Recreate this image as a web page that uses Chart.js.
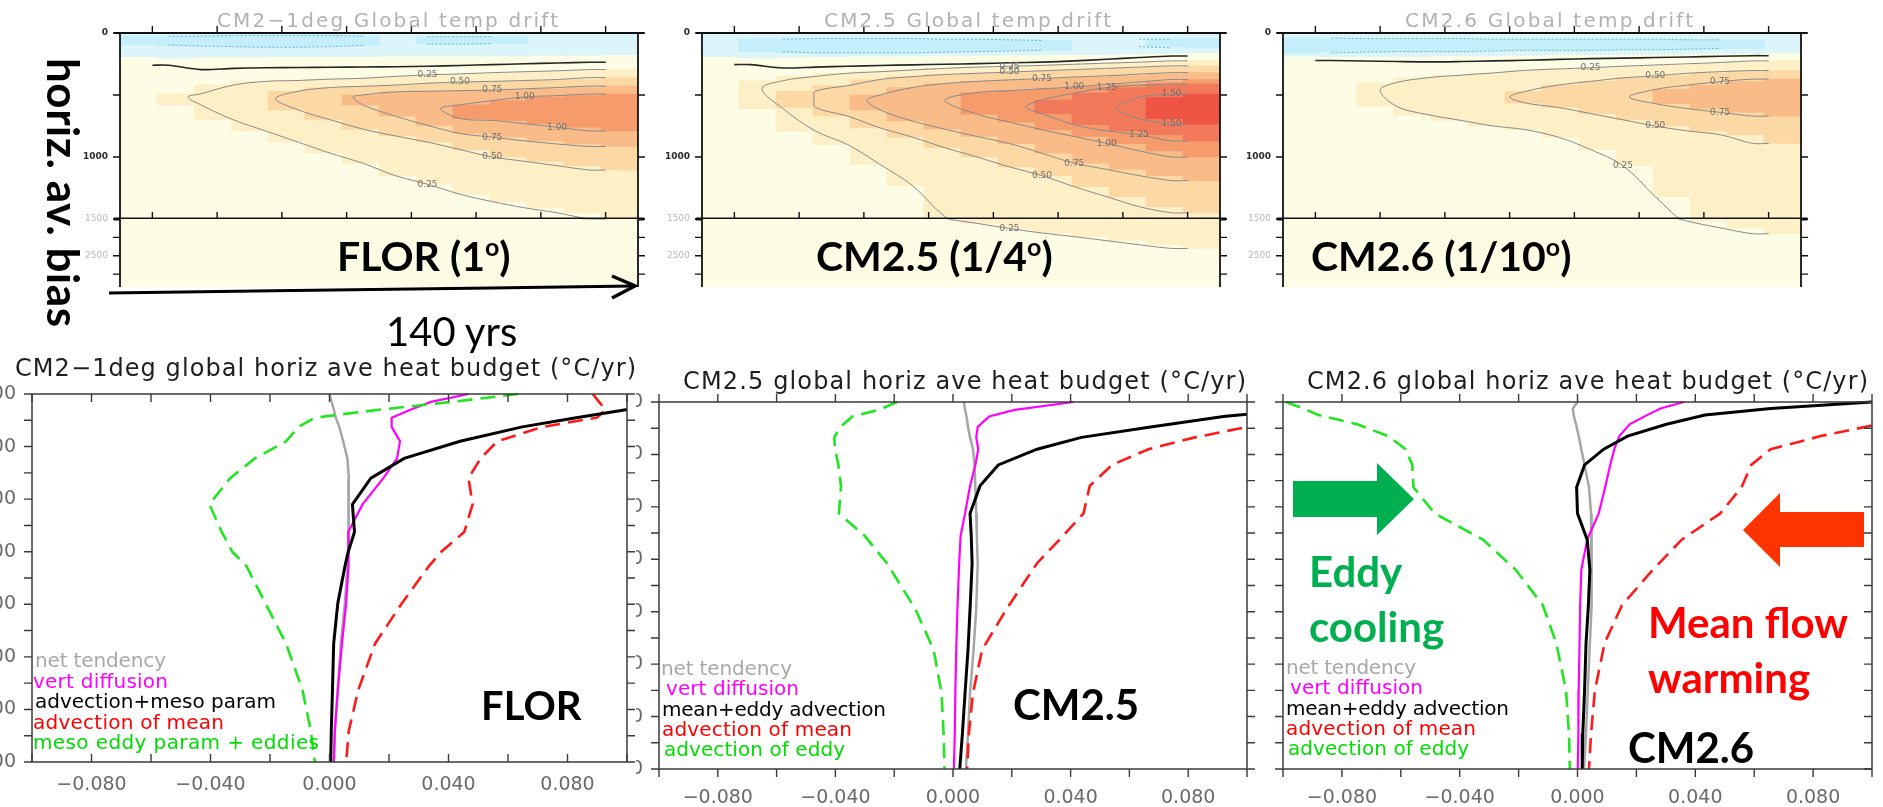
<!DOCTYPE html>
<html>
<head>
<meta charset="utf-8">
<script src="https://cdn.jsdelivr.net/npm/chart.js@4.4.1/dist/chart.umd.min.js"></script>
<style>
  html, body { margin: 0; padding: 0; background: #fff; }
  body { position: relative; width: 1883px; height: 807px; overflow: hidden; }
  .wrap { position: absolute; overflow: hidden; }
  canvas { position: absolute; }
  #notes { position: absolute; left: 0; top: 0; z-index: 5; }
</style>
</head>
<body>
<svg id="notes" width="1883" height="807" xmlns="http://www.w3.org/2000/svg"></svg>
<script>
// ── drift sections: decade columns (yrs) and contour bands (depth in m) ──────

var years = [5, 15, 25, 35, 45, 55, 65, 75, 85, 95, 105, 115, 125, 135];
var levels = [0.25, 0.50, 0.75, 1.00, 1.25, 1.50];

// FLOR
var florZero     = [260, 295, 285, 280, 278, 276, 274, 272, 268, 262, 255, 248, 242, 236];
var florBlue     = [190, 200, 195, 195, 190, 190, 190, 185, 185, 185, 185, 180, 180, 175];
var florCyanTop  = [25, 25, 20, 20, 20, 20, 25, null, 30, 30, 30, null, null, null];
var florCyanBot  = [95, 105, 110, 115, 115, 110, 100, null, 90, 90, 85, null, null, null];
var florL25Top   = [null, 490, 420, 390, 383, 372, 365, 350, 338, 330, 320, 312, 305, 295];
var florL25Bot   = [null, 580, 700, 790, 880, 970, 1050, 1150, 1220, 1300, 1360, 1410, 1450, 1500];
var florL50Top   = [null, null, null, null, 470, 440, 430, 420, 405, 395, 390, 383, 375, 360];
var florL50Bot   = [null, null, null, null, 620, 700, 775, 830, 880, 940, 1000, 1035, 1070, 1105];
var florL75Top   = [null, null, null, null, null, null, 500, 475, 470, 465, 460, 450, 440, 428];
var florL75Bot   = [null, null, null, null, null, null, 580, 670, 745, 810, 840, 870, 895, 915];
var florL100Top  = [null, null, null, null, null, null, null, null, null, 580, 545, 516, 505, 492];
var florL100Bot  = [null, null, null, null, null, null, null, null, null, 690, 705, 731, 760, 790];
var florTipYear  = [11, 38, 62, 89];
var florTipDepth = [516, 530, 516, 610];

// CM2.5
var cm25Zero     = [255, 282, 275, 268, 262, 257, 252, 247, 240, 235, 225, 212, 198, 186];
var cm25Blue     = [190, 200, 195, 190, 185, 185, 180, 180, 178, 175, 172, 170, 165, 160];
var cm25CyanTop  = [null, 50, 45, 45, 45, 45, 50, 50, 55, 60, null, null, 50, 50];
var cm25CyanBot  = [null, 150, 160, 160, 160, 160, 155, 150, 145, 140, null, null, 110, 120];
var cm25L25Top   = [null, 385, 350, 325, 312, 298, 285, 275, 268, 261, 252, 243, 235, 225];
var cm25L25Bot   = [null, 610, 790, 900, 1060, 1230, 1480, 1620, 1760, 1880, 1980, 2090, 2200, 2300];
var cm25L50Top   = [null, null, 470, 425, 375, 352, 335, 325, 315, 305, 295, 285, 275, 265];
var cm25L50Bot   = [null, null, 600, 670, 765, 840, 925, 1000, 1080, 1150, 1240, 1320, 1400, 1450];
var cm25L75Top   = [null, null, null, null, 500, 440, 408, 390, 378, 368, 355, 345, 332, 320];
var cm25L75Bot   = [null, null, null, null, 620, 710, 775, 835, 892, 970, 1050, 1100, 1150, 1190];
var cm25L100Top  = [null, null, null, null, null, null, null, 480, 465, 450, 435, 415, 395, 375];
var cm25L100Bot  = [null, null, null, null, null, null, null, 655, 718, 780, 835, 890, 950, 1000];
var cm25L125Top  = [null, null, null, null, null, null, null, null, null, 540, 485, 440, 420, 412];
var cm25L125Bot  = [null, null, null, null, null, null, null, null, null, 650, 740, 790, 820, 870];
var cm25L150Top  = [null, null, null, null, null, null, null, null, null, null, null, null, 520, 492];
var cm25L150Bot  = [null, null, null, null, null, null, null, null, null, null, null, null, 690, 735];
var cm25TipYear  = [8.5, 24.6, 41, 65, 90, 118];
var cm25TipDepth = [449, 530, 543, 543, 597, 610];

// CM2.6
var cm26Zero     = [222, 226, 230, 233, 230, 225, 220, 213, 207, 203, 198, 193, 188, 183];
var cm26Blue     = [185, 190, 190, 190, 185, 185, 180, 175, 175, 170, 170, 165, 165, 160];
var cm26CyanTop  = [40, 45, 45, 45, 45, 50, 50, 50, 50, 50, 50, 55, 55, null];
var cm26CyanBot  = [160, 155, 150, 150, 150, 145, 140, 140, 140, 135, 135, 130, 125, null];
var cm26L25Top   = [null, null, 400, 360, 340, 322, 301, 290, 280, 268, 258, 248, 238, 225];
var cm26L25Bot   = [null, null, 590, 660, 705, 750, 780, 840, 940, 1070, 1320, 1560, 1740, 1900];
var cm26L50Top   = [null, null, null, null, null, null, 470, 420, 390, 362, 345, 325, 312, 303];
var cm26L50Bot   = [null, null, null, null, null, null, 565, 600, 650, 700, 750, 790, 820, 890];
var cm26L75Top   = [null, null, null, null, null, null, null, null, null, null, 455, 420, 392, 372];
var cm26L75Bot   = [null, null, null, null, null, null, null, null, null, null, 570, 610, 640, 670];
var cm26TipYear  = [20, 60, 97];
var cm26TipDepth = [462, 516, 516];

// ── heat budget profiles (°C/yr against depth) ───────────────────────────────

var depthFlor = [100, 130, 160, 190, 225, 280, 345, 420, 520, 625, 700, 755, 895, 1050, 1225, 1380, 1500];
var netFlor   = [0.0000, 0.0007, 0.0015, 0.0021, 0.0033, 0.0046, 0.0060, 0.0065, 0.0063, 0.0065, 0.0063, 0.0060, 0.0052, 0.0038, 0.0028, 0.0018, 0.0014];
var diffFlor  = [0.0467, 0.0341, 0.0272, 0.0209, 0.0209, 0.0237, 0.0227, 0.0181, 0.0111, 0.0063, 0.0065, 0.0063, 0.0056, 0.0042, 0.0028, 0.0018, 0.0015];
var advFlor   = [0.1600, 0.1300, 0.0996, 0.0829, 0.0648, 0.0439, 0.0251, 0.0139, 0.0077, 0.0084, 0.0063, 0.0052, 0.0028, 0.0014, 0.0010, 0.0006, 0.0004];
var meanFlor  = [0.0885, 0.0906, 0.0927, 0.0899, 0.0717, 0.0564, 0.0508, 0.0467, 0.0481, 0.0453, 0.0376, 0.0334, 0.0244, 0.0153, 0.0097, 0.0065, 0.0056];
var eddyFlor  = [0.0634, 0.0410, 0.0166, -0.0049, -0.0104, -0.0146, -0.0251, -0.0334, -0.0404, -0.0362, -0.0327, -0.0279, -0.0216, -0.0146, -0.0091, -0.0063, -0.0049];

var depthCM25 = [100, 130, 155, 195, 235, 280, 340, 420, 525, 610, 715, 890, 1045, 1210, 1365, 1500];
var netCM25   = [0.0037, 0.0041, 0.0046, 0.0051, 0.0058, 0.0068, 0.0073, 0.0076, 0.0079, 0.0081, 0.0084, 0.0079, 0.0070, 0.0058, 0.0051, 0.0044];
var diffCM25  = [0.0410, 0.0210, 0.0123, 0.0084, 0.0079, 0.0086, 0.0076, 0.0058, 0.0041, 0.0026, 0.0021, 0.0015, 0.0011, 0.0008, 0.0006, 0.0003];
var advCM25   = [0.1600, 0.1150, 0.0920, 0.0672, 0.0437, 0.0286, 0.0154, 0.0092, 0.0058, 0.0062, 0.0065, 0.0058, 0.0051, 0.0041, 0.0032, 0.0023];
var meanCM25  = [0.1600, 0.1300, 0.1100, 0.1000, 0.0823, 0.0665, 0.0541, 0.0465, 0.0444, 0.0375, 0.0286, 0.0182, 0.0099, 0.0068, 0.0054, 0.0048];
var eddyCM25  = [-0.0190, -0.0252, -0.0342, -0.0383, -0.0404, -0.0401, -0.0390, -0.0381, -0.0388, -0.0301, -0.0225, -0.0128, -0.0066, -0.0039, -0.0032, -0.0029];

var depthCM26 = [100, 125, 150, 185, 230, 280, 340, 425, 525, 625, 740, 875, 1020, 1200, 1365, 1500];
var netCM26   = [0.0000, -0.0016, -0.0013, -0.0005, 0.0004, 0.0013, 0.0024, 0.0039, 0.0046, 0.0049, 0.0049, 0.0046, 0.0042, 0.0035, 0.0029, 0.0022];
var diffCM26  = [0.0361, 0.0282, 0.0236, 0.0177, 0.0142, 0.0125, 0.0111, 0.0094, 0.0072, 0.0033, 0.0013, 0.0009, 0.0007, 0.0004, 0.0003, 0.0001];
var advCM26   = [0.1000, 0.0656, 0.0433, 0.0302, 0.0170, 0.0089, 0.0024, -0.0003, 0.0000, 0.0033, 0.0042, 0.0037, 0.0029, 0.0024, 0.0018, 0.0016];
var meanCM26  = [0.1300, 0.1200, 0.1100, 0.1020, 0.0826, 0.0656, 0.0590, 0.0557, 0.0485, 0.0354, 0.0256, 0.0151, 0.0092, 0.0059, 0.0046, 0.0039];
var eddyCM26  = [-0.0990, -0.0931, -0.0879, -0.0748, -0.0643, -0.0584, -0.0561, -0.0557, -0.0485, -0.0321, -0.0210, -0.0118, -0.0072, -0.0039, -0.0029, -0.0026];

var budgetDepthLabels = [100, 300, 500, 700, 900, 1100, 1300, 1500];

var driftTitles  = ["CM2\u22121deg Global temp drift", "CM2.5 Global temp drift", "CM2.6 Global temp drift"];
var budgetTitles = ["CM2\u22121deg global horiz ave heat budget (\u00b0C/yr)",
                    "CM2.5 global horiz ave heat budget (\u00b0C/yr)",
                    "CM2.6 global horiz ave heat budget (\u00b0C/yr)"];
var legendFlor = ["net tendency", "vert diffusion", "advection+meso param", "advection of mean", "meso eddy param + eddies"];
var legendCM   = ["net tendency", "vert diffusion", "mean+eddy advection", "advection of mean", "advection of eddy"];

// ── styles ───────────────────────────────────────────────────────────────────

var PALE = "#fdfde6";
var BLUE = "#dcf5fa";
var CYAN = "#c4eef9";
var LEVEL_COLORS = ["#fdf0c6", "#fcd8a4", "#f9bb88", "#f59b6c", "#f27a5a", "#ee5545"];
var LINE_STYLES = [
  { color: "#a6a6a6", width: 2.5, dash: [],      order: 4 },
  { color: "#ff00ff", width: 2.2, dash: [],      order: 3 },
  { color: "#000000", width: 3,   dash: [],      order: 0 },
  { color: "#ff1a1a", width: 2.6, dash: [15, 8], order: 1 },
  { color: "#1fe61f", width: 2.6, dash: [15, 8], order: 2 }
];
var LEGEND_COLORS = ["#a8a8a8", "#ff00ff", "#000000", "#ff0000", "#00dd00"];

Chart.defaults.font.family = '"DejaVu Sans", sans-serif';

// ── plugins ──────────────────────────────────────────────────────────────────

// box, tick marks (in or out on each side) and hand-placed depth labels
var frameTicks = {
  id: "frameTicks",
  beforeDatasetsDraw: function(chart, args, o) {
    if (!o.bg) return;
    var a = chart.chartArea, ctx = chart.ctx;
    ctx.save();
    ctx.fillStyle = o.bg;
    ctx.fillRect(a.left, a.top, a.right - a.left, a.bottom - a.top);
    ctx.restore();
  },
  afterDraw: function(chart, args, o) {
    var a = chart.chartArea, ctx = chart.ctx;
    var xs = chart.scales[o.xId], ys = chart.scales[o.yId];
    var xv = o.xVals || xs.ticks.map(function(t) { return t.value; });
    var yv = o.yVals || ys.ticks.map(function(t) { return t.value; });
    var sign = { "in": 1, "out": -1 };
    ctx.save();
    ctx.strokeStyle = o.color;
    ctx.lineWidth = o.tickWidth;
    ctx.beginPath();
    xv.forEach(function(v) {
      var p = xs.getPixelForValue(v);
      if (o.top)    { ctx.moveTo(p, a.top);    ctx.lineTo(p, a.top + sign[o.top] * o.len); }
      if (o.bottom) { ctx.moveTo(p, a.bottom); ctx.lineTo(p, a.bottom - sign[o.bottom] * o.len); }
    });
    yv.forEach(function(v) {
      var p = ys.getPixelForValue(v);
      if (o.left)  { ctx.moveTo(a.left, p);  ctx.lineTo(a.left + sign[o.left] * o.len, p); }
      if (o.right) { ctx.moveTo(a.right, p); ctx.lineTo(a.right - sign[o.right] * o.len, p); }
    });
    ctx.stroke();

    var e = o.edges, ov = o.overhang || 0;
    function edge(w, x1, y1, x2, y2) {
      if (!w) return;
      ctx.lineWidth = w;
      ctx.beginPath(); ctx.moveTo(x1, y1); ctx.lineTo(x2, y2); ctx.stroke();
    }
    edge(e.top,    a.left - ov, a.top,    a.right + ov, a.top);
    edge(e.bottom, a.left - ov, a.bottom, a.right + ov, a.bottom);
    edge(e.left,   a.left,  a.top, a.left,  a.bottom);
    edge(e.right,  a.right, a.top, a.right, a.bottom);

    if (o.labels) {
      ctx.font = o.labelFont;
      ctx.fillStyle = o.labelColor;
      ctx.textAlign = "right";
      ctx.textBaseline = "middle";
      o.labels.forEach(function(l) {
        ctx.fillText(l[1], a.left - o.labelGap, ys.getPixelForValue(l[0]));
      });
    }
    ctx.restore();
  }
};

// contour value labels along each band outline
var contourLabels = {
  id: "contourLabels",
  afterDatasetsDraw: function(chart) {
    var ctx = chart.ctx, a = chart.chartArea;
    var xs = chart.scales.xl, ys = chart.scales.y;
    ctx.save();
    ctx.beginPath();
    ctx.rect(a.left, a.top, a.right - a.left, a.bottom - a.top);
    ctx.clip();
    ctx.font = '9px "DejaVu Sans"';
    ctx.fillStyle = "#707070";
    ctx.textAlign = "center";
    ctx.textBaseline = "middle";
    chart.data.datasets.forEach(function(ds) {
      if (!ds.levelText) return;
      [0.22, 0.8].forEach(function(f) {
        var p = ds.data[Math.round(f * (ds.data.length - 1))];
        ctx.fillText(ds.levelText, xs.getPixelForValue(p.x), ys.getPixelForValue(p.y));
      });
    });
    ctx.restore();
  }
};

// ── helpers ──────────────────────────────────────────────────────────────────

function addCanvas(parent, left, top, w, h) {
  var cv = document.createElement("canvas");
  cv.width = w; cv.height = h;
  cv.style.left = left + "px";
  cv.style.top = top + "px";
  parent.appendChild(cv);
  return cv;
}

function span(top, bot) {
  return top.map(function(t, i) { return t == null ? null : [t, bot[i]]; });
}

function outline(top, bot, tipYear, tipDepth) {
  var pts = [];
  for (var i = top.length - 1; i >= 0; i--) {
    if (top[i] != null) pts.push({ x: years[i], y: top[i] });
  }
  pts.unshift({ x: 140, y: pts[0].y });
  pts.push({ x: tipYear, y: tipDepth });
  for (var k = 0; k < bot.length; k++) {
    if (bot[k] != null) pts.push({ x: years[k], y: bot[k] });
  }
  pts.push({ x: 140, y: pts[pts.length - 1].y });
  return pts;
}

function edgeLine(vals) {
  var pts = years.map(function(yr, i) { return { x: yr, y: vals[i] }; });
  pts.unshift({ x: 0, y: vals[0] });
  pts.push({ x: 140, y: vals[vals.length - 1] });
  return pts;
}

function driftDatasets(bands, tipYear, tipDepth, zero, blue, cyanTop, cyanBot) {
  var bar = { type: "bar", xAxisID: "x", grouped: false, barPercentage: 1, categoryPercentage: 1,
              borderWidth: 0, clip: 0 };
  var sets = [];
  sets.push(Object.assign({}, bar, { data: blue.map(function(b) { return [0, b]; }), backgroundColor: BLUE, order: 40 }));
  sets.push(Object.assign({}, bar, { data: span(cyanTop, cyanBot), backgroundColor: CYAN, order: 39 }));
  bands.forEach(function(b, k) {
    sets.push(Object.assign({}, bar, { data: span(b[0], b[1]), backgroundColor: LEVEL_COLORS[k], order: 30 - k }));
  });
  var line = { type: "line", xAxisID: "xl", pointRadius: 0, fill: false, clip: 0 };
  bands.forEach(function(b, k) {
    sets.push(Object.assign({}, line, {
      data: outline(b[0], b[1], tipYear[k], tipDepth[k]),
      borderColor: "#8a8a8a", borderWidth: 1, tension: 0.35, order: 3,
      levelText: levels[k].toFixed(2)
    }));
  });
  [cyanTop, cyanBot].forEach(function(c) {
    sets.push(Object.assign({}, line, {
      data: years.map(function(yr, i) { return { x: yr, y: c[i] }; }),
      borderColor: "#6ab4d2", borderWidth: 1, borderDash: [2, 2], tension: 0.3, order: 2
    }));
  });
  sets.push(Object.assign({}, line, {
    data: edgeLine(zero), borderColor: "#262626", borderWidth: 1.6, tension: 0.3, order: 1
  }));
  return sets;
}

// one drift section: upper part 0-1500 m, compressed part below 1500 m
function driftPanel(left, bands, tipYear, tipDepth, zero, blue, cyanTop, cyanBot) {
  var parts = [
    { top: 20, h: 210, padT: 13, padB: 11, min: 0, max: 1500, yVals: [0, 500, 1000, 1500],
      labels: [[0, "0"], [1000, "1000"]], labelFont: 'bold 9px "DejaVu Sans"', labelColor: "#2a2a2a",
      edges: { top: 1.8, bottom: 3.2, left: 1.8, right: 1.8 }, topTicks: "out", bottomTicks: "in" },
    { top: 210, h: 77, padT: 9, padB: 0, min: 1500, max: 3350, yVals: [1500, 2000, 2500, 3000],
      labels: [[1500, "1500"], [2500, "2500"]], labelFont: '9px "DejaVu Sans"', labelColor: "#b8b8b8",
      edges: { left: 1.8, right: 1.8 }, topTicks: null, bottomTicks: null }
  ];
  parts.forEach(function(p) {
    var cv = addCanvas(document.body, left - 60, p.top, 600, p.h);
    new Chart(cv, {
      type: "bar",
      data: { labels: years.map(String), datasets: driftDatasets(bands, tipYear, tipDepth, zero, blue, cyanTop, cyanBot) },
      options: {
        responsive: false, animation: false, events: [],
        layout: { padding: { left: 60, right: 22, top: p.padT, bottom: p.padB } },
        plugins: {
          legend: { display: false }, tooltip: { enabled: false },
          frameTicks: {
            bg: PALE, xId: "xl", yId: "y", xVals: [0, 20, 40, 60, 80, 100, 120, 140], yVals: p.yVals,
            top: p.topTicks, bottom: p.bottomTicks, left: "out", right: "out", len: 7,
            color: "#111", tickWidth: 1.4, edges: p.edges, overhang: 6,
            labels: p.labels, labelFont: p.labelFont, labelColor: p.labelColor, labelGap: 12
          }
        },
        scales: {
          x:  { type: "category", display: false, offset: true },
          xl: { type: "linear", display: false, min: 0, max: 140 },
          y:  { type: "linear", display: false, reverse: true, min: p.min, max: p.max }
        }
      },
      plugins: [frameTicks, contourLabels]
    });
  });
}

function fmtX(v) {
  if (Math.abs(v) > 0.0999) return "";
  var k = v / 0.04;
  if (Math.abs(k - Math.round(k)) > 1e-6) return "";
  if (Math.abs(v) < 1e-9) return "0.000";
  return (v < 0 ? "\u2212" : "") + Math.abs(v).toFixed(3);
}

// one heat budget profile panel, cropped to its visible strip
function budgetChart(p) {
  var wrapTop = 355;
  var wrap = document.createElement("div");
  wrap.className = "wrap";
  wrap.style.left = p.clipL + "px";
  wrap.style.top = wrapTop + "px";
  wrap.style.width = (p.clipR - p.clipL) + "px";
  wrap.style.height = (807 - wrapTop) + "px";
  document.body.appendChild(wrap);

  var padL = 70, padT = 12, padR = 14, axisH = 46;
  var cv = addCanvas(wrap, p.l - padL - p.clipL, p.t - padT - wrapTop,
                     p.r - p.l + padL + padR, p.b - p.t + padT + axisH);

  var datasets = p.series.map(function(vals, i) {
    var s = LINE_STYLES[i];
    return {
      label: p.legend[i],
      data: vals.map(function(v, k) { return { x: v, y: p.depth[k] }; }),
      borderColor: s.color, borderWidth: s.width, borderDash: s.dash, order: s.order,
      pointRadius: 0, tension: 0, fill: false,
      clip: { left: 0, right: 0, top: 4, bottom: 4 }
    };
  });

  var tickFont = { family: '"DejaVu Sans", sans-serif', size: 19 };
  new Chart(cv, {
    type: "line",
    data: { datasets: datasets },
    options: {
      responsive: false, animation: false, events: [],
      layout: { padding: { left: 0, top: padT, right: padR, bottom: 0 } },
      plugins: {
        legend: { display: false }, tooltip: { enabled: false },
        frameTicks: {
          xId: "x", yId: "y", top: p.ticks[0], bottom: p.ticks[1], left: p.ticks[2], right: p.ticks[3],
          len: 8, color: "#3a3a3a", tickWidth: 1.4,
          edges: { top: 1.5, bottom: 1.5, left: 1.5, right: 1.5 },
          labels: budgetDepthLabels.map(function(d) { return [d, String(d)]; }),
          labelFont: '19px "DejaVu Sans"', labelColor: "#6a6a6a", labelGap: 16
        }
      },
      scales: {
        x: {
          type: "linear", min: -0.1, max: 0.1,
          ticks: { stepSize: 0.02, autoSkip: false, maxRotation: 0, padding: p.xPad, color: "#6a6a6a",
                   font: tickFont, callback: fmtX },
          grid: { display: false, drawTicks: false }, border: { display: false },
          afterFit: function(s) { s.height = axisH; }
        },
        y: {
          type: "linear", reverse: true, min: 100, max: 1500,
          ticks: { stepSize: 100, autoSkip: false, display: false },
          grid: { display: false, drawTicks: false }, border: { display: false },
          afterFit: function(s) { s.width = padL; }
        }
      }
    },
    plugins: [frameTicks]
  });
}

// ── draw ─────────────────────────────────────────────────────────────────────

driftPanel(120,
  [[florL25Top, florL25Bot], [florL50Top, florL50Bot], [florL75Top, florL75Bot], [florL100Top, florL100Bot]],
  florTipYear, florTipDepth, florZero, florBlue, florCyanTop, florCyanBot);
driftPanel(702,
  [[cm25L25Top, cm25L25Bot], [cm25L50Top, cm25L50Bot], [cm25L75Top, cm25L75Bot],
   [cm25L100Top, cm25L100Bot], [cm25L125Top, cm25L125Bot], [cm25L150Top, cm25L150Bot]],
  cm25TipYear, cm25TipDepth, cm25Zero, cm25Blue, cm25CyanTop, cm25CyanBot);
driftPanel(1283,
  [[cm26L25Top, cm26L25Bot], [cm26L50Top, cm26L50Bot], [cm26L75Top, cm26L75Bot]],
  cm26TipYear, cm26TipDepth, cm26Zero, cm26Blue, cm26CyanTop, cm26CyanBot);

budgetChart({ clipL: 0, clipR: 636, l: 32, t: 394, r: 627, b: 762, xPad: 12,
  ticks: ["in", "in", "out", "out"], depth: depthFlor, legend: legendFlor,
  series: [netFlor, diffFlor, advFlor, meanFlor, eddyFlor] });
budgetChart({ clipL: 636, clipR: 1263, l: 659, t: 402, r: 1251, b: 769, xPad: 18,
  ticks: ["out", "out", "out", "out"], depth: depthCM25, legend: legendCM,
  series: [netCM25, diffCM25, advCM25, meanCM25, eddyCM25] });
budgetChart({ clipL: 1268, clipR: 1883, l: 1283, t: 402, r: 1876, b: 769, xPad: 18,
  ticks: ["out", "out", "out", "in"], depth: depthCM26, legend: legendCM,
  series: [netCM26, diffCM26, advCM26, meanCM26, eddyCM26] });

// ── annotation layer ─────────────────────────────────────────────────────────

var SVGNS = "http://www.w3.org/2000/svg";
var notes = document.getElementById("notes");

function svgEl(tag, attrs, parent) {
  var el = document.createElementNS(SVGNS, tag);
  for (var k in attrs) el.setAttribute(k, attrs[k]);
  (parent || notes).appendChild(el);
  return el;
}

function svgText(x, y, str, attrs) {
  var t = svgEl("text", Object.assign({ x: x, y: y }, attrs));
  t.textContent = str;
  return t;
}

// text with a raised small "o" (degree mark) before the closing bracket
function degreeLabel(x, y, head, size) {
  var t = svgEl("text", { x: x, y: y, "font-family": "Lato", "font-weight": 700, "font-size": size, fill: "#000" });
  svgEl("tspan", {}, t).textContent = head;
  svgEl("tspan", { "font-size": Math.round(size * 0.62), dy: -Math.round(size * 0.36) }, t).textContent = "o";
  svgEl("tspan", { dy: Math.round(size * 0.36) }, t).textContent = ")";
}

var gradsFont = '"DejaVu Sans", sans-serif';

// drift titles
[[217, 341], [824, 287], [1405, 288]].forEach(function(p, i) {
  svgText(p[0], 27, driftTitles[i], { "font-family": gradsFont, "font-size": 20, fill: "#b2b2b2",
    textLength: p[1], lengthAdjust: "spacing" });
});

// budget titles
[[15, 376, 621], [683, 389, 563], [1307, 389, 561]].forEach(function(p, i) {
  svgText(p[0], p[1], budgetTitles[i], { "font-family": gradsFont, "font-size": 24, fill: "#1e1e1e",
    textLength: p[2], lengthAdjust: "spacing" });
});

// legends
function legendBlock(names, xs, base, lens) {
  names.forEach(function(n, i) {
    svgText(xs[i], base[i], n, { "font-family": gradsFont, "font-size": 20, fill: LEGEND_COLORS[i],
      textLength: lens[i], lengthAdjust: "spacing" });
  });
}
legendBlock(legendFlor, [35, 33, 35, 33, 33], [667, 688, 708, 729, 749], [131, 135, 241, 191, 286]);
legendBlock(legendCM, [661, 666, 662, 662, 664], [675, 695, 716, 736, 756], [131, 133, 224, 190, 181]);
legendBlock(legendCM, [1286, 1290, 1286, 1286, 1288], [674, 694, 715, 735, 755], [130, 133, 223, 190, 181]);

// model labels on the drift sections
degreeLabel(337, 271, "FLOR (1", 41);
degreeLabel(816, 271, "CM2.5 (1/4", 41);
degreeLabel(1311, 271, "CM2.6 (1/10", 41);

// side label, time arrow
svgText(0, 0, "horiz. av. bias", { transform: "translate(47,58) rotate(90)", "font-family": "Lato",
  "font-weight": 700, "font-size": 44, fill: "#000", textLength: 269, lengthAdjust: "spacing" });
svgEl("line", { x1: 109, y1: 293, x2: 634, y2: 286, stroke: "#000", "stroke-width": 3 });
svgEl("polyline", { points: "612,276 635,286 612,298", fill: "none", stroke: "#000", "stroke-width": 3.5 });
svgText(386, 346, "140 yrs", { "font-family": "Lato", "font-size": 40, fill: "#000" });

// model names on the budget panels
var bold = { "font-family": "Lato", "font-weight": 700, "font-size": 42, fill: "#000" };
svgText(481, 720, "FLOR", Object.assign({}, bold, { "font-size": 40 }));
svgText(1013, 720, "CM2.5", bold);
svgText(1628, 763, "CM2.6", bold);

// eddy cooling / mean flow warming callouts
svgEl("polygon", { points: "1293,481 1377,481 1377,463 1414,499 1377,535 1377,517 1293,517", fill: "#00b050" });
svgEl("polygon", { points: "1864,512 1780,512 1780,493 1743,530 1780,567 1780,547 1864,547", fill: "#ff3300" });
svgText(1309, 587, "Eddy", Object.assign({}, bold, { fill: "#00b050" }));
svgText(1309, 642, "cooling", Object.assign({}, bold, { fill: "#00b050" }));
svgText(1648, 638, "Mean flow", Object.assign({}, bold, { fill: "#ff0000" }));
svgText(1648, 693, "warming", Object.assign({}, bold, { fill: "#ff0000" }));
</script>
</body>
</html>
